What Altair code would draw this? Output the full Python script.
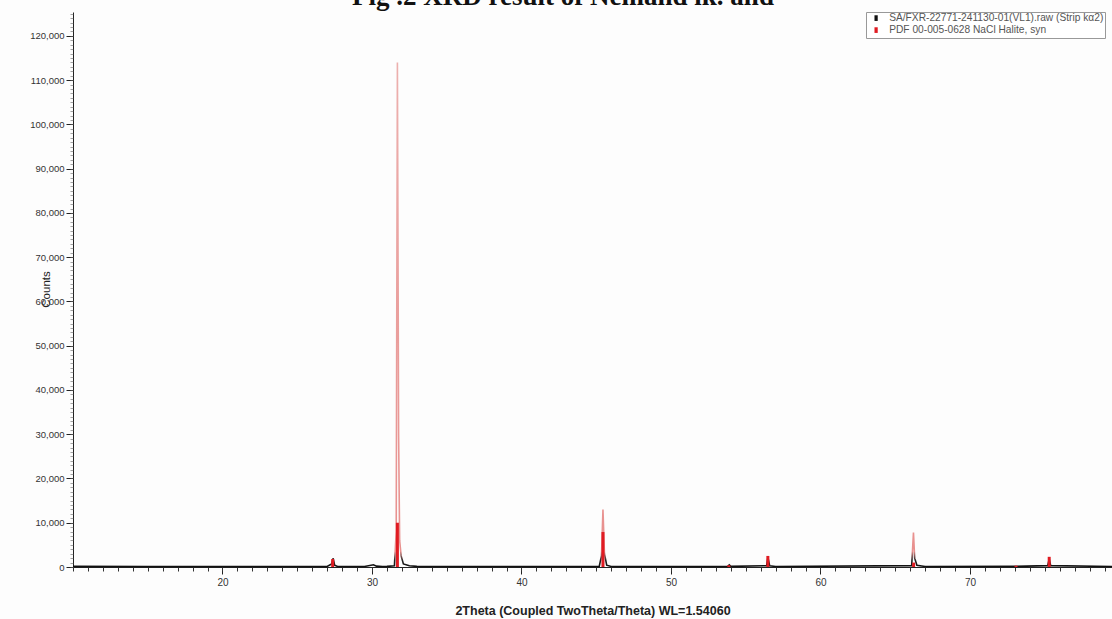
import altair as alt
import pandas as pd

# Experimental scan (2Theta, Counts)
scan_two_theta = [10.0, 15.0, 20.0, 25.0, 27.0, 27.3, 27.4, 27.5, 27.7, 29.5, 30.1, 30.3, 30.7,
                  31.0, 31.5, 31.62, 31.7, 31.78, 31.85, 31.95, 32.1, 32.5, 33.0, 40.0,
                  45.2, 45.35, 45.45, 45.55, 45.7, 46.0, 53.8, 53.9, 54.0, 56.4, 56.48, 56.6,
                  57.0, 66.1, 66.22, 66.3, 66.45, 67.0, 73.05, 75.2, 75.3, 75.4, 79.5]
scan_counts = [150, 130, 120, 120, 120, 700, 2000, 400, 130, 130, 500, 200, 120,
               150, 300, 8000, 114000, 30000, 6000, 2500, 700, 300, 150, 120,
               150, 2500, 13000, 3000, 400, 130, 150, 500, 150, 300, 2200, 300,
               130, 300, 7800, 2000, 400, 130, 150, 300, 1800, 300, 120]

# Reference pattern sticks (PDF 00-005-0628 NaCl Halite)
stick_two_theta = [27.37, 31.70, 45.45, 53.87, 56.48, 66.23, 73.08, 75.30]
stick_counts = [1800, 10000, 7900, 400, 2500, 1000, 300, 2300]

series_scan = "SA/FXR-22771-241130-01(VL1).raw (Strip kα2)"
series_pdf = "PDF 00-005-0628 NaCl Halite, syn"
fig_title = ["Fig .2 XRD result of Nemand lk. and"]

x_major = [20, 30, 40, 50, 60, 70, 80]
x_minor = list(range(10, 81))
y_major = list(range(0, 120001, 10000))
y_minor = list(range(0, 125001, 1000))

scan = pd.DataFrame({"two_theta": scan_two_theta, "counts": scan_counts})
sticks = pd.DataFrame({"two_theta": stick_two_theta, "counts": stick_counts,
                       "series": [series_pdf] * len(stick_two_theta)})
title_df = pd.DataFrame({"t": fig_title})

xscale = alt.Scale(domain=[10, 79.5], nice=False, zero=False)
yscale = alt.Scale(domain=[0, 125400], nice=False)

font = "Liberation Sans"

grad = alt.Gradient(
    gradient="linear",
    stops=[alt.GradientStop(color="#111111", offset=0),
           alt.GradientStop(color="#222222", offset=0.012),
           alt.GradientStop(color="#e8908e", offset=0.03),
           alt.GradientStop(color="#ecb0ae", offset=1)],
    x1=0, x2=0, y1=1, y2=0)

line = alt.Chart(scan).mark_line(color=grad, strokeWidth=1.6, interpolate="linear").encode(
    x=alt.X("two_theta:Q", scale=xscale,
            axis=alt.Axis(orient="bottom", values=x_major, tickSize=7, labelFontSize=10,
                          labelColor="#333", labelFont=font, labelPadding=3, domainColor="#222",
                          tickColor="#222", grid=False,
                          title="2Theta (Coupled TwoTheta/Theta) WL=1.54060",
                          titleFont=font, titleFontSize=12.5, titleFontWeight="bold",
                          titleColor="#222", titleY=43, titleBaseline="middle")),
    y=alt.Y("counts:Q", scale=yscale,
            axis=alt.Axis(orient="left", values=y_major, format=",.0f", tickSize=7,
                          labelFontSize=9.5, labelColor="#333", labelFont=font, labelPadding=2,
                          domainColor="#222", tickColor="#222", grid=False,
                          title="Counts", titleFont=font, titleFontSize=11.5,
                          titleFontWeight="normal", titleColor="#222", titleAngle=270,
                          titleX=-27, titleY=277, titleBaseline="middle", titleAlign="center")),
)

rules = alt.Chart(sticks).mark_rule(strokeWidth=3).encode(
    x=alt.X("two_theta:Q", scale=xscale,
            axis=alt.Axis(orient="bottom", values=x_minor, tickSize=4, labels=False,
                          domain=False, tickColor="#333", grid=False, title="")),
    y=alt.Y("counts:Q", scale=yscale,
            axis=alt.Axis(orient="left", values=y_minor, tickSize=3, labels=False,
                          domain=False, tickColor="#666", tickWidth=0.6, grid=False, title="")),
    y2=alt.datum(0),
    color=alt.Color("series:N",
                    scale=alt.Scale(domain=[series_scan, series_pdf], range=["#111111", "#e01b22"]),
                    legend=alt.Legend(orient="none", legendX=793, legendY=0, title=None,
                                      symbolType="M-0.3,-1L0.3,-1L0.3,1L-0.3,1Z",
                                      symbolSize=12, symbolStrokeWidth=2.2,
                                      labelFont=font, labelFontSize=10.2, labelColor="#555",
                                      labelLimit=400, rowPadding=-2, padding=1,
                                      labelOffset=8, fillColor="white", strokeColor="#999",
                                      symbolOffset=4)),
)

title_text = alt.Chart(title_df).mark_text(
    font="Liberation Serif", fontSize=27, fontWeight="bold", color="#111",
    align="center", baseline="alphabetic").encode(
    text="t:N", x=alt.value(490), y=alt.value(-7))

chart = alt.layer(line, rules, title_text).resolve_axis(x="independent", y="independent").properties(
    width=1039, height=555,
    autosize=alt.AutoSizeParams(type="none"),
    padding={"left": 73, "top": 12, "right": 0, "bottom": 52},
    background="#fdfdfd",
).configure_view(stroke=None)

chart.save("out.html", embed_options={"renderer": "svg", "actions": False})
